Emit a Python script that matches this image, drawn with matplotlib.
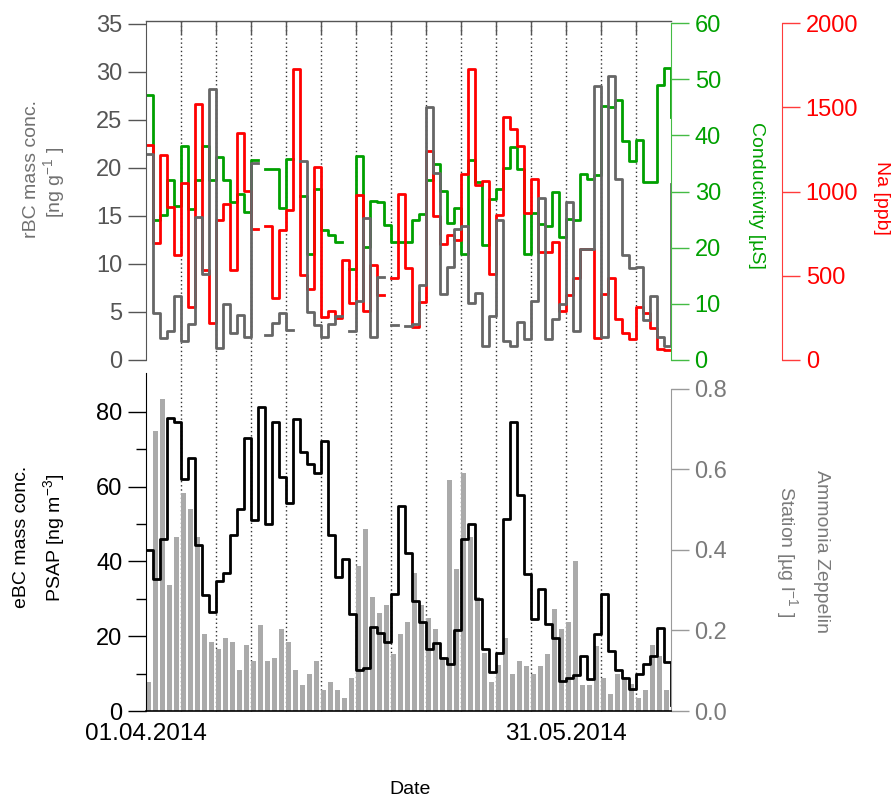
import numpy as np
import matplotlib
matplotlib.use('Agg')
import matplotlib.pyplot as plt
from matplotlib.ticker import FormatStrFormatter, MultipleLocator, FixedLocator

nan = np.nan

# ---------------- data (daily values, day 0 = 01.04.2014) ----------------
days = np.arange(76)

rbc = [21.5, 4.9, 2.3, 3.0, 6.7, 2.0, 3.8, 14.9, 9.0, 28.2,
       1.3, 5.8, 2.8, 4.7, 2.4, 20.5, nan, 2.6, 3.9, 4.9,
       3.1, nan, 20.7, 5.0, 3.6, 2.4, 3.75, 4.6, nan, 3.05,
       6.1, 14.8, 2.4, 8.6, nan, 3.6, nan, 3.5, 3.8, 7.8,
       26.4, 19.5, 6.9, 9.7, 13.6, 14.0, 5.9, 7.0, 1.5, 4.6,
       14.6, 2.0, 1.5, 4.0, 2.2, 6.1, 16.9, 2.2, 4.3, 5.8,
       16.5, 3.0, 11.6, 11.6, 28.5, 2.4, 29.6, 18.9, 10.9, 9.6,
       9.7, 4.2, 6.7, 2.4, 1.5, 18.3]

conductivity = [47.2, 25.0, 25.9, 32.1, 27.4, 38.2, 26.9, 32.1, 38.2, 32.1,
                36.1, 32.1, 28.1, 29.5, 26.4, 35.7, nan, 34.1, 34.1, 27.0,
                35.9, nan, 29.2, 18.8, 30.5, 23.2, 22.3, 21.1, nan, 16.3,
                36.4, 20.2, 28.4, 28.1, 24.1, 21.1, 21.1, 21.1, 25.0, 26.1,
                32.1, 35.0, 30.1, 24.4, 27.0, 18.9, 35.7, 31.8, 20.5, 28.7,
                30.5, 34.2, 37.9, 34.1, 18.8, 26.2, 24.3, 23.8, 29.9, 22.0,
                25.2, 25.0, 33.2, 32.3, 33.0, 45.2, 45.1, 46.3, 39.0, 35.4,
                39.2, 31.7, 31.7, 49.0, 52.0, 43.3]

sodium = [1274, 696, 1220, 907, 621, 1052, 312, 1522, 536, 218,
          833, 929, 536, 1345, 1002, 780, nan, 794, 371, 774,
          893, 1726, 506, 421, 1145, 258, 292, 252, 595, 341,
          982, 288, 565, 387, nan, 486, 988, 546, 194, 347,
          1240, 853, 690, 742, 710, 1107, 1726, 1040, 1061, 512,
          863, 1444, 1369, 1270, 873, 1077, 639, 639, 698, 288,
          387, 486, 659, 659, 129, 393, 484, 244, 163, 125,
          315, 278, 189, 65, 60, 60]

ebc = [43.1, 35.2, 46.0, 78.5, 77.3, 62.2, 67.8, 44.4, 31.0, 26.6,
       34.8, 36.8, 47.1, 54.0, 73.1, 51.1, 81.4, 49.9, 77.4, 62.5,
       55.6, 78.0, 69.2, 66.1, 63.6, 72.3, 47.1, 35.9, 40.6, 26.0,
       11.1, 11.6, 22.6, 20.8, 18.5, 31.2, 54.8, 42.4, 29.5, 23.9,
       16.5, 18.3, 14.3, 12.6, 21.7, 46.0, 49.9, 29.9, 16.7, 10.5,
       15.6, 51.3, 77.4, 57.7, 36.7, 24.7, 32.6, 23.3, 19.4, 8.1,
       8.7, 9.6, 14.7, 8.6, 20.6, 31.2, 16.1, 11.0, 8.9, 5.8,
       9.8, 12.6, 14.7, 22.3, 13.2, 1.5]

bar_days = np.arange(75)
ammonia = [0.073, 0.696, 0.774, 0.312, 0.433, 0.542, 0.501, 0.433, 0.191, 0.172,
           0.153, 0.182, 0.172, 0.102, 0.163, 0.123, 0.213, 0.123, 0.132, 0.203,
           0.172, 0.102, 0.065, 0.092, 0.123, 0.052, 0.073, 0.052, 0.033, 0.081,
           0.361, 0.451, 0.284, 0.243, 0.263, 0.141, 0.191, 0.222, 0.342, 0.263,
           0.232, 0.203, 0.135, 0.574, 0.352, 0.591, 0.433, 0.284, 0.145, 0.073,
           0.114, 0.181, 0.092, 0.123, 0.113, 0.092, 0.113, 0.141, 0.253, 0.203,
           0.222, 0.373, 0.064, 0.064, 0.161, 0.083, 0.041, 0.092, 0.084, 0.067,
           0.032, 0.051, 0.163, 0.137, 0.051]

date_ticks = [0, 60]
date_labels = ['01.04.2014', '31.05.2014']
grid_days = list(range(5, 75, 5))

# ---------------- style ----------------
plt.rcParams['font.family'] = ['Liberation Sans', 'DejaVu Sans']
plt.rcParams['mathtext.fontset'] = 'custom'
plt.rcParams['mathtext.rm'] = 'Liberation Sans'
plt.rcParams['mathtext.it'] = 'Liberation Sans:italic'

GRAY_LINE = '#666666'
GRAY_TICK = '#555555'
GRAY_LAB = '#707070'
GREEN = '#00a000'
GREEN_SP = '#44bb44'
RED = '#ff0000'
RED_SP = '#ff3b3b'
BAR = '#aaaaaa'
AMM = '#7a7a7a'
AMM_SP = '#9a9a9a'

TICK_FS = 17
LAB_FS = 14
LW = 2.0

W, H = 895, 802
fig = plt.figure(figsize=(W / 100, H / 100), dpi=100)


def rect(l, t, r, b):
    return [l / W, 1 - b / H, (r - l) / W, (b - t) / H]


def hide_spines(ax):
    for s in ax.spines.values():
        s.set_visible(False)


# ================= top panel =================
ax_g = fig.add_axes(rect(146, 21, 671, 360))
ax_r = ax_g.twinx()
ax_k = ax_g.twinx()
for a in (ax_g, ax_r, ax_k):
    hide_spines(a)
    a.set_xlim(0, 75)

for d in grid_days:
    ax_g.axvline(d, color='#333333', lw=1.0, ls=(0, (1, 2)), zorder=0)

ax_g.plot(days, conductivity, drawstyle='steps-post', color=GREEN, lw=LW)
ax_r.plot(days, sodium, drawstyle='steps-post', color=RED, lw=LW)
ax_k.plot(days, rbc, drawstyle='steps-post', color=GRAY_LINE, lw=LW)

ax_g.set_ylim(0, 60.4)
ax_r.set_ylim(0, 2013)
ax_k.set_ylim(0, 35.31)

# top spine with inward ticks at the dotted lines
ax_g.spines['top'].set_visible(True)
ax_g.spines['top'].set_color(GRAY_TICK)
ax_g.spines['top'].set_linewidth(1.0)
ax_g.xaxis.tick_top()
ax_g.xaxis.set_major_locator(FixedLocator(grid_days))
ax_g.tick_params(axis='x', which='both', direction='in', length=9, width=1.0,
                 color=GRAY_TICK, labeltop=False, labelbottom=False)

# green conductivity axis (right)
ax_g.yaxis.tick_right()
ax_g.yaxis.set_label_position('right')
ax_g.spines['right'].set_visible(True)
ax_g.spines['right'].set_color(GREEN_SP)
ax_g.spines['right'].set_bounds(0, 60)
ax_g.set_yticks(np.arange(0, 61, 10))
ax_g.tick_params(axis='y', direction='out', length=13, width=1.0, color=GREEN_SP,
                 labelcolor=GREEN, labelsize=TICK_FS, pad=4)

# red sodium axis (offset right)
ax_r.spines['right'].set_visible(True)
ax_r.spines['right'].set_position(('outward', 80))
ax_r.spines['right'].set_color(RED_SP)
ax_r.spines['right'].set_bounds(0, 2000)
ax_r.set_yticks(np.arange(0, 2001, 500))
ax_r.tick_params(axis='y', direction='out', length=13, width=1.0, color=RED_SP,
                 labelcolor=RED, labelsize=TICK_FS, pad=4)

# gray rBC axis (left)
ax_k.yaxis.tick_left()
ax_k.yaxis.set_label_position('left')
ax_k.spines['left'].set_visible(True)
ax_k.spines['left'].set_color(GRAY_TICK)
ax_k.set_yticks(np.arange(0, 36, 5))
ax_k.tick_params(axis='y', direction='out', length=13, width=1.0, color=GRAY_TICK,
                 labelcolor=GRAY_TICK, labelsize=TICK_FS, pad=4)

# ================= bottom panel =================
ax_b = fig.add_axes(rect(146, 373, 671, 711))
ax_e = ax_b.twinx()
for a in (ax_b, ax_e):
    hide_spines(a)
    a.set_xlim(0, 75)

ext = (711 - 360) / 338.0
for d in grid_days:
    ax_b.axvline(d, ymin=0, ymax=ext, color='#333333', lw=1.0, ls=(0, (1, 2)),
                 zorder=0, clip_on=False)

ax_b.bar(bar_days + 0.05, ammonia, width=0.62, align='edge', color=BAR,
         edgecolor='none', zorder=2)
ax_b.set_ylim(0, 0.8397)
ax_e.plot(days, ebc, drawstyle='steps-post', color='black', lw=LW)
ax_e.set_ylim(0, 90.43)

# bottom spine + date labels
ax_b.spines['bottom'].set_visible(True)
ax_b.spines['bottom'].set_color('black')
ax_b.spines['bottom'].set_linewidth(1.2)
ax_b.xaxis.tick_bottom()
ax_b.set_xticks(date_ticks)
ax_b.set_xticklabels(date_labels)
ax_b.tick_params(axis='x', length=0, pad=9, labelsize=17.5, labelcolor='black')

# ammonia axis (right)
ax_b.yaxis.tick_right()
ax_b.yaxis.set_label_position('right')
ax_b.spines['right'].set_visible(True)
ax_b.spines['right'].set_color(AMM_SP)
ax_b.spines['right'].set_bounds(0, 0.8)
ax_b.set_yticks(np.arange(0, 0.81, 0.2))
ax_b.yaxis.set_major_formatter(FormatStrFormatter('%.1f'))
ax_b.tick_params(axis='y', direction='out', length=13, width=1.0, color=AMM_SP,
                 labelcolor=AMM, labelsize=TICK_FS, pad=4)

# eBC axis (left)
ax_e.yaxis.tick_left()
ax_e.yaxis.set_label_position('left')
ax_e.spines['left'].set_visible(True)
ax_e.spines['left'].set_color('black')
ax_e.set_yticks(np.arange(0, 81, 20))
ax_e.yaxis.set_minor_locator(FixedLocator([10, 30, 50, 70]))
ax_e.tick_params(axis='y', which='major', direction='out', length=13, width=1.0,
                 color='black', labelcolor='black', labelsize=TICK_FS, pad=4)
ax_e.tick_params(axis='y', which='minor', direction='out', length=7.5, width=1.0,
                 color='black')

# ================= axis titles =================
def ftext(x, y, s, **kw):
    fig.text(x / W, 1 - y / H, s, ha='center', va='center', fontsize=LAB_FS, **kw)

ftext(32, 169, 'rBC mass conc.', rotation=90, color=GRAY_LAB)
ftext(54, 182, r'[ng g$^{\mathregular{-1}}$ ]', rotation=90, color=GRAY_LAB)
ftext(757, 195, 'Conductivity [µS]', rotation=270, color=GREEN)
ftext(882, 198, 'Na [ppb]', rotation=270, color=RED)
ftext(22, 537, 'eBC mass conc.', rotation=90, color='black')
ftext(54, 538, r'PSAP [ng m$^{\mathregular{-3}}$]', rotation=90, color='black')
ftext(822, 551, 'Ammonia Zeppelin', rotation=270, color=AMM)
ftext(787, 552, r'Station [µg l$^{\mathregular{-1}}$ ]', rotation=270, color=AMM)
ftext(410, 790, 'Date', color='black')

fig.savefig('out.png', dpi=100)
